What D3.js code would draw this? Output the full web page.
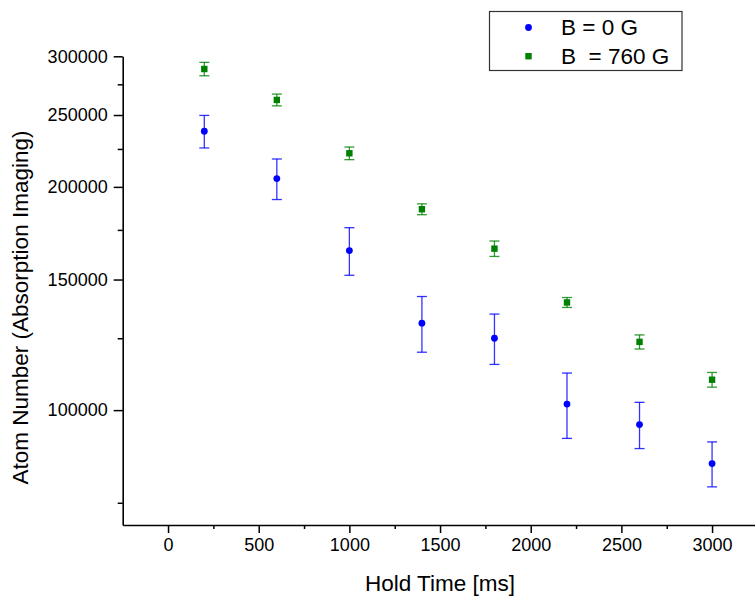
<!DOCTYPE html>
<html>
<head>
<meta charset="utf-8">
<script src="https://d3js.org/d3.v7.min.js"></script>
<style>
  body { margin: 0; background: #fff; }
  text { font-family: "Liberation Sans", Arial, sans-serif; fill: #000; }
</style>
</head>
<body>
<script>
// Hold times (ms)
var holdTimes = [200, 600, 1000, 1400, 1800, 2200, 2600, 3000];

// B = 0 G, atom number and error
var atoms0G = [237700, 205200, 164100, 131000, 125000, 101900, 95600, 84700];
var err0G   = [12000, 12900, 12100, 11300, 9750, 10300, 6850, 5900];

// B = 760 G
var atoms760G = [288400, 262000, 222000, 186600, 165100, 139700, 123600, 109900];
var err760G   = [6000, 4800, 4350, 3150, 3950, 2150, 2700, 2500];

var xTicks = [0, 500, 1000, 1500, 2000, 2500, 3000];
var xMinor = [250, 750, 1250, 1750, 2250, 2750];
var yTicks = [100000, 150000, 200000, 250000, 300000];
var yMinor = [75000, 125000, 175000, 225000, 275000];

var width = 755, height = 596;

var svg = d3.select('body').append('svg')
  .attr('width', width)
  .attr('height', height);

var x = d3.scaleLinear().domain([-250, 3250]).range([122.7, 757.4]);
var y = d3.scaleLog().domain([70000, 300000]).range([525, 56.3]);

// minor ticks first
svg.append('g')
  .attr('transform', 'translate(0,525)')
  .call(d3.axisBottom(x).tickValues(xMinor).tickSize(4).tickFormat('').tickSizeOuter(0))
  .call(function(g){ g.select('.domain').remove(); })
  .selectAll('line').attr('stroke-width', 1.5);

svg.append('g')
  .attr('transform', 'translate(122.7,0)')
  .call(d3.axisLeft(y).tickValues(yMinor).tickSize(5).tickFormat('').tickSizeOuter(0))
  .call(function(g){ g.select('.domain').remove(); })
  .selectAll('line').attr('stroke-width', 1.5);

// major axes
var xAxis = svg.append('g')
  .attr('transform', 'translate(0,525)')
  .call(d3.axisBottom(x).tickValues(xTicks).tickSize(8).tickPadding(5)
    .tickFormat(d3.format('d')).tickSizeOuter(0));
xAxis.select('.domain').attr('stroke-width', 1.6);
xAxis.selectAll('line').attr('stroke-width', 1.5);
xAxis.selectAll('text').attr('font-size', 18).attr('font-family', '"Liberation Sans", Arial, sans-serif');

var yAxis = svg.append('g')
  .attr('transform', 'translate(122.7,0)')
  .call(d3.axisLeft(y).tickValues(yTicks).tickSize(9).tickPadding(6)
    .tickFormat(d3.format('d')).tickSizeOuter(0));
yAxis.select('.domain').attr('stroke-width', 1.6);
yAxis.selectAll('line').attr('stroke-width', 1.5);
yAxis.selectAll('text').attr('font-size', 18).attr('font-family', '"Liberation Sans", Arial, sans-serif');

// axis titles
svg.append('text')
  .attr('x', 440)
  .attr('y', 591)
  .attr('text-anchor', 'middle')
  .attr('font-size', 22.5)
  .text('Hold Time [ms]');

svg.append('text')
  .attr('transform', 'translate(28,307.5) rotate(-90)')
  .attr('text-anchor', 'middle')
  .attr('font-size', 22.5)
  .text('Atom Number (Absorption Imaging)');

// data
function drawSeries(vals, errs, color, shape) {
  var g = svg.append('g');
  var eb = g.selectAll('g.eb').data(holdTimes).enter().append('g')
    .attr('stroke', color).attr('stroke-width', 1.3).attr('stroke-opacity', 0.8);
  eb.append('line')
    .attr('x1', function(d){ return x(d); })
    .attr('x2', function(d){ return x(d); })
    .attr('y1', function(d, i){ return y(vals[i] + errs[i]); })
    .attr('y2', function(d, i){ return y(vals[i] - errs[i]); });
  eb.append('line')
    .attr('x1', function(d){ return x(d) - 5; })
    .attr('x2', function(d){ return x(d) + 5; })
    .attr('y1', function(d, i){ return y(vals[i] + errs[i]); })
    .attr('y2', function(d, i){ return y(vals[i] + errs[i]); });
  eb.append('line')
    .attr('x1', function(d){ return x(d) - 5; })
    .attr('x2', function(d){ return x(d) + 5; })
    .attr('y1', function(d, i){ return y(vals[i] - errs[i]); })
    .attr('y2', function(d, i){ return y(vals[i] - errs[i]); });

  if (shape === 'circle') {
    g.selectAll('circle').data(holdTimes).enter().append('circle')
      .attr('cx', function(d){ return x(d); })
      .attr('cy', function(d, i){ return y(vals[i]); })
      .attr('r', 3.4)
      .attr('fill', color);
  } else {
    g.selectAll('rect').data(holdTimes).enter().append('rect')
      .attr('x', function(d){ return x(d) - 3.2; })
      .attr('y', function(d, i){ return y(vals[i]) - 3.2; })
      .attr('width', 6.4).attr('height', 6.4)
      .attr('fill', color);
  }
}

drawSeries(atoms0G, err0G, '#0000ff', 'circle');
drawSeries(atoms760G, err760G, '#008000', 'square');

// legend
var lg = svg.append('g');
lg.append('rect')
  .attr('x', 489.5).attr('y', 11.5).attr('width', 192.5).attr('height', 59)
  .attr('fill', '#fff').attr('stroke', '#333').attr('stroke-width', 1.2);
lg.append('circle').attr('cx', 528.5).attr('cy', 27.5).attr('r', 3.4).attr('fill', '#0000ff');
lg.append('rect').attr('x', 525.3).attr('y', 53).attr('width', 6.4).attr('height', 6.4).attr('fill', '#008000');
lg.append('text').attr('x', 561).attr('y', 35).attr('font-size', 22.5)
  .style('white-space', 'pre').text('B = 0 G');
lg.append('text').attr('x', 561).attr('y', 63.5).attr('font-size', 22.5)
  .style('white-space', 'pre').text('B  = 760 G');
</script>
</body>
</html>
